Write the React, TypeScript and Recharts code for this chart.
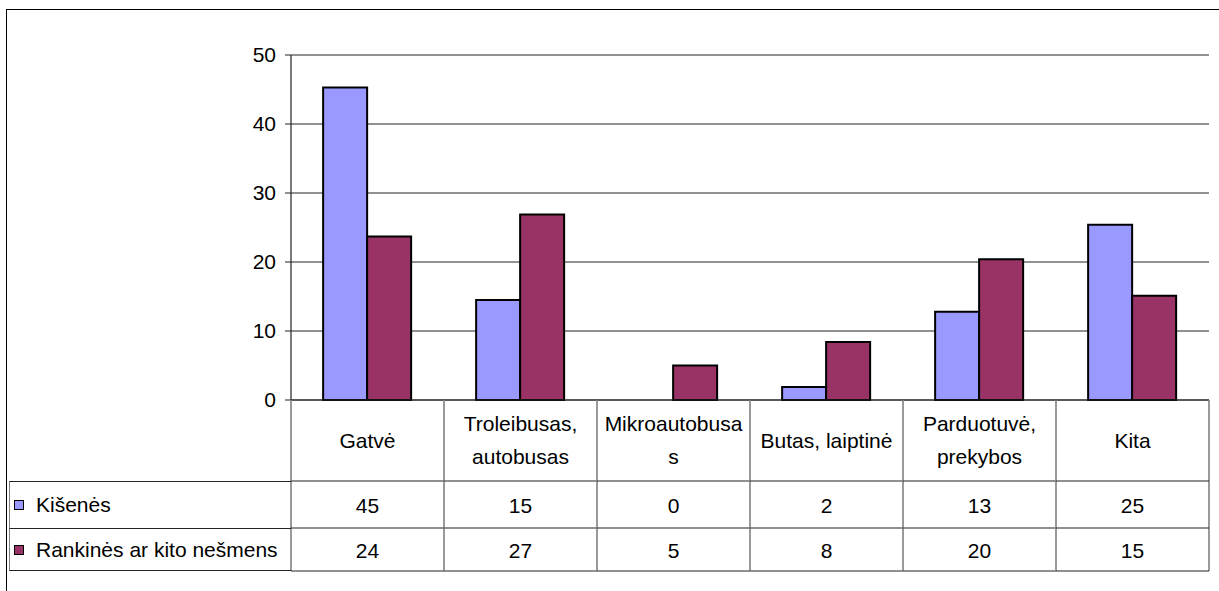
import React from "react";
import { BarChart, Bar, XAxis, YAxis, CartesianGrid, Legend } from "recharts";

const categories = [
  "Gatvė",
  "Troleibusas, autobusas",
  "Mikroautobusas",
  "Butas, laiptinė",
  "Parduotuvė, prekybos",
  "Kita",
];
// header cell text as it wraps in the data table
const categoryLines = [
  ["Gatvė"],
  ["Troleibusas,", "autobusas"],
  ["Mikroautobusa", "s"],
  ["Butas, laiptinė"],
  ["Parduotuvė,", "prekybos"],
  ["Kita"],
];
const kisenes = [45.3, 14.5, 0, 1.9, 12.8, 25.4];
const rankines = [23.7, 26.9, 5, 8.4, 20.4, 15.1];
const seriesNames = ["Kišenės", "Rankinės ar kito nešmens"];
const seriesColors = ["#9999FF", "#993366"];
const yTicks = [0, 10, 20, 30, 40, 50];

const data = categories.map((name, i) => ({
  name,
  kisenes: kisenes[i],
  rankines: rankines[i],
}));
const rows = [kisenes, rankines];

const FONT = "'Liberation Sans', Arial, Helvetica, sans-serif";
const W = 1219;
const H = 591;
const MARGIN = { top: 55, right: 10, bottom: 20, left: 231 };
const Y_W = 60;
const PLOT_W = W - MARGIN.left - Y_W - MARGIN.right;
const HEADER_H = 81;
const ROW_H = [47, 43];
const TABLE_H = HEADER_H + ROW_H[0] + ROW_H[1];

function TableTick(props: any) {
  const { x, y, payload } = props;
  const i = categories.indexOf(payload.value);
  const bw = PLOT_W / categories.length;
  const left = x - bw / 2;
  const right = x + bw / 2;
  const r1 = y + HEADER_H;
  const r2 = r1 + ROW_H[0];
  const bottom = r2 + ROW_H[1];
  const lines = categoryLines[i] || [payload.value];
  const mid = y + HEADER_H / 2;
  return (
    <g>
      <line x1={left} x2={left} y1={y} y2={bottom} stroke="#808080" strokeWidth={1.6} />
      {i === categories.length - 1 && (
        <line x1={right} x2={right} y1={y} y2={bottom} stroke="#808080" strokeWidth={1.6} />
      )}
      {[r1, r2, bottom].map((yy, k) => (
        <line key={k} x1={left} x2={right} y1={yy} y2={yy} stroke="#222" strokeWidth={1.2} />
      ))}
      {lines.map((t, k) => (
        <text
          key={k}
          x={x}
          y={mid + 7 + (k - (lines.length - 1) / 2) * 33}
          textAnchor="middle"
          fontSize={21}
          fontFamily={FONT}
          fill="#000"
        >
          {t}
        </text>
      ))}
      {rows.map((vals, k) => (
        <text
          key={"v" + k}
          x={x}
          y={(k === 0 ? (r1 + r2) / 2 : (r2 + bottom) / 2) + 8}
          textAnchor="middle"
          fontSize={21}
          fontFamily={FONT}
          fill="#000"
        >
          {Math.round(vals[i])}
        </text>
      ))}
    </g>
  );
}

function TableLegend({ payload }: any) {
  const items = (payload || []).map((p: any, k: number) => ({
    name: p.value ?? seriesNames[k],
    color: p.color ?? seriesColors[k],
  }));
  return (
    <div style={{ width: 282, fontFamily: FONT, fontSize: 21, color: "#000" }}>
      {items.map((it: any, k: number) => (
        <div
          key={k}
          style={{
            height: ROW_H[k],
            boxSizing: "border-box",
            borderTop: "1.2px solid #222",
            borderBottom: k === items.length - 1 ? "1.2px solid #222" : "none",
            borderLeft: "1.6px solid #808080",
            display: "flex",
            alignItems: "center",
            paddingLeft: 4,
          }}
        >
          <span
            style={{
              display: "inline-block",
              width: 8,
              height: 8,
              background: it.color,
              border: "1px solid #000",
              marginRight: 12,
            }}
          />
          <span style={{ whiteSpace: "nowrap" }}>{it.name}</span>
        </div>
      ))}
    </div>
  );
}

export default function App() {
  return (
    <div
      style={{
        position: "absolute",
        left: 0,
        top: 0,
        width: W,
        height: H,
        overflow: "hidden",
        background: "#fff",
      }}
    >
      <div
        style={{
          position: "absolute",
          left: 6,
          top: 9,
          width: W + 50,
          height: H + 50,
          borderTop: "1.5px solid #000",
          borderLeft: "1.5px solid #000",
        }}
      />
      <div style={{ position: "absolute", left: 0, top: 0 }}>
        <BarChart
          width={W}
          height={H}
          data={data}
          margin={MARGIN}
          barCategoryGap="21%"
          barGap={0}
        >
          <CartesianGrid vertical={false} stroke="#222" strokeWidth={1} />
          <XAxis
            dataKey="name"
            interval={0}
            height={TABLE_H}
            tickLine={false}
            tickSize={0}
            tickMargin={0}
            axisLine={{ stroke: "#222", strokeWidth: 1.2 }}
            tick={<TableTick />}
          />
          <XAxis
            xAxisId="top"
            dataKey="name"
            orientation="top"
            height={0}
            tick={false}
            tickLine={false}
            axisLine={{ stroke: "#888", strokeWidth: 2 }}
          />
          <YAxis
            width={Y_W}
            domain={[0, 50]}
            ticks={yTicks}
            interval={0}
            tickSize={6}
            tickMargin={9}
            axisLine={{ stroke: "#222", strokeWidth: 1.2 }}
            tickLine={{ stroke: "#222" }}
            tick={{ fontSize: 21, fontFamily: FONT, fill: "#000" }}
          />
          <YAxis
            yAxisId="right"
            orientation="right"
            width={0}
            domain={[0, 50]}
            tick={false}
            tickLine={false}
            axisLine={{ stroke: "#888", strokeWidth: 2 }}
          />
          <Legend
            layout="vertical"
            align="center"
            verticalAlign="middle"
            wrapperStyle={{ left: 9, top: 481, width: 282 }}
            content={<TableLegend />}
          />
          <Bar
            dataKey="kisenes"
            name={seriesNames[0]}
            fill={seriesColors[0]}
            stroke="#000"
            strokeWidth={2}
            isAnimationActive={false}
          />
          <Bar
            dataKey="rankines"
            name={seriesNames[1]}
            fill={seriesColors[1]}
            stroke="#000"
            strokeWidth={2}
            isAnimationActive={false}
          />
        </BarChart>
      </div>
    </div>
  );
}
